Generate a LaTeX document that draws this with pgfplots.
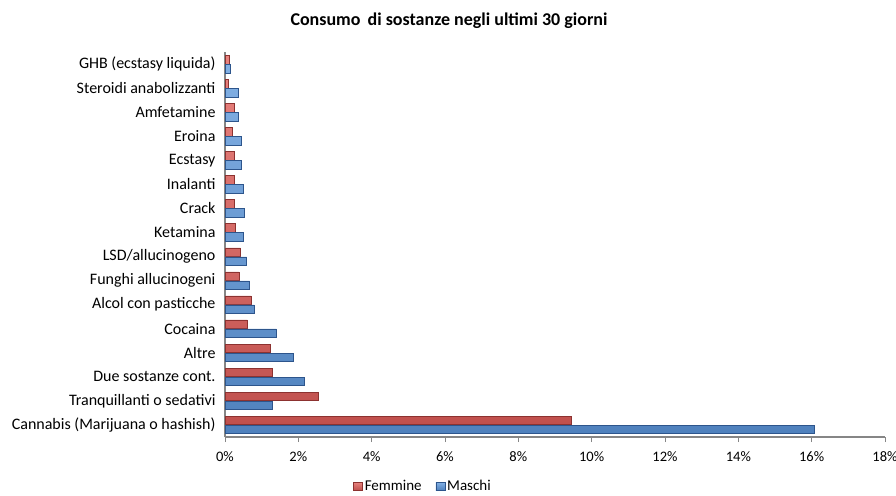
\documentclass[border=0pt]{standalone}
\usepackage{pgfplots}
\pgfplotsset{compat=1.18}
\usepackage{pgfplotstable}
\usepackage{fontspec}
\setmainfont{Carlito}
\definecolor{redF}{RGB}{192,80,77}
\definecolor{redFl}{RGB}{232,130,126}
\definecolor{redFd}{RGB}{140,50,48}
\definecolor{blueM}{RGB}{79,129,189}
\definecolor{blueMl}{RGB}{130,176,228}
\definecolor{blueMd}{RGB}{45,85,140}
\definecolor{axgray}{RGB}{134,134,134}
\pgfplotstableread{
idx F M
0 9.43 16.08
1 2.54 1.29
2 1.29 2.16
3 1.24 1.85
4 0.61 1.40
5 0.71 0.80
6 0.38 0.67
7 0.42 0.59
8 0.28 0.51
9 0.24 0.53
10 0.24 0.51
11 0.25 0.43
12 0.19 0.43
13 0.24 0.35
14 0.10 0.37
15 0.11 0.15
}\datatable
\begin{document}
\begin{tikzpicture}
\useasboundingbox (0pt,0pt) rectangle (896pt,495pt);
\node[font=\fontsize{18}{21}\selectfont\bfseries] at (449pt,474pt) {Consumo\, di sostanze negli ultimi 30 giorni};
\begin{axis}[
  at={(225pt,58pt)}, anchor=south west,
  scale only axis, width=660pt, height=385pt,
  xmin=0, xmax=18, ymin=-0.5, ymax=15.5,
  xbar, bar width=8.5pt,
  xtick={0,2,...,18},
  xticklabels={0\%,2\%,4\%,6\%,8\%,10\%,12\%,14\%,16\%,18\%},
  ytick={0,...,15},
  yticklabels={Cannabis (Marijuana o hashish),Tranquillanti o sedativi,Due sostanze cont.,Altre,Cocaina,Alcol con pasticche,Funghi allucinogeni,LSD/allucinogeno,Ketamina,Crack,Inalanti,Ecstasy,Eroina,Amfetamine,Steroidi anabolizzanti,GHB (ecstasy liquida)},
  minor ytick={-0.5,0.5,...,15.5},
  axis x line*=bottom, axis y line*=left,
  axis line style={axgray, line width=1.2pt, -},
  every tick/.style={axgray, line width=1pt},
  ytick style={draw=none},
  minor tick length=6pt,
  xtick style={axgray},
  major tick length=5pt,
  tick align=outside,
  xticklabel style={font=\fontsize{14.5}{17}\selectfont, yshift=-6pt},
  yticklabel style={font=\fontsize{16}{18}\selectfont, xshift=-1pt},
  /pgf/number format/assume math mode=true,
  legend style={at={(0.30,-0.128)}, anchor=center, draw=none, fill=none, legend columns=2,
    inner sep=0pt, outer sep=0pt,
    font=\fontsize{15}{17}\selectfont, /tikz/every even column/.append style={column sep=12pt}},
  legend image code/.code={\fill[#1] (0pt,-4pt) rectangle (9pt,4pt);},
]
\addplot[bar shift=4.5pt, draw=redFd, top color=redFl, bottom color=redF, line width=0.5pt] table[x=F, y=idx] {\datatable};
\addplot[bar shift=-4.5pt, draw=blueMd, top color=blueMl, bottom color=blueM, line width=0.5pt] table[x=M, y=idx] {\datatable};
\legend{Femmine, Maschi}
\end{axis}
\end{tikzpicture}
\end{document}
